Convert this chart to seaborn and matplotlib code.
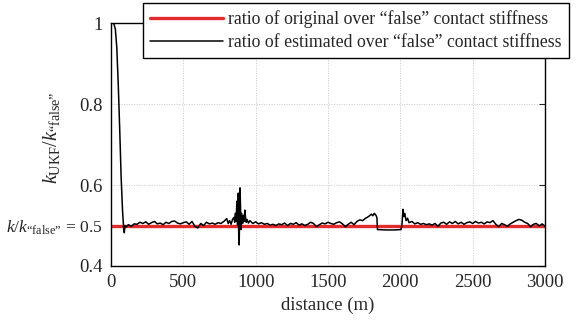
import matplotlib
matplotlib.use("Agg")
import matplotlib.pyplot as plt
import seaborn as sns
import pandas as pd

distance = [0, 10, 20, 30, 40, 50, 60, 70, 80, 88, 92, 96, 100,
            120, 140, 160, 180, 200, 220, 240, 260, 280, 300, 320, 340, 360, 380, 400,
            420, 440, 460, 480, 500, 520, 540, 560, 580, 600, 620, 640, 660, 680, 700,
            720, 740, 760, 780, 800, 810, 820, 830, 840, 850, 855, 860, 865, 870, 875,
            880, 883, 886, 889, 892, 895, 898, 902, 906, 910, 915, 920, 925, 930, 935,
            940, 950, 960, 980, 1000, 1020, 1040, 1060, 1080, 1100, 1120, 1140, 1160,
            1180, 1200, 1220, 1240, 1260, 1280, 1300, 1320, 1340, 1360, 1380, 1400,
            1420, 1440, 1460, 1480, 1500, 1520, 1540, 1560, 1580, 1600, 1620, 1640,
            1660, 1680, 1700, 1720, 1740, 1760, 1780, 1800, 1810, 1820, 1830, 1838,
            1842, 1900, 1960, 2005, 2012, 2018, 2024, 2030, 2040, 2050, 2060, 2080,
            2100, 2120, 2140, 2160, 2180, 2200, 2220, 2240, 2260, 2280, 2300, 2320,
            2340, 2360, 2380, 2400, 2420, 2440, 2460, 2480, 2500, 2520, 2540, 2560,
            2580, 2600, 2620, 2640, 2660, 2680, 2700, 2720, 2740, 2760, 2780, 2800,
            2820, 2840, 2860, 2880, 2900, 2920, 2940, 2960, 2980, 3000]

estimated = [1.0, 1.0, 0.998, 0.985, 0.94, 0.85, 0.74, 0.62, 0.535, 0.49, 0.482, 0.50, 0.495,
             0.502, 0.498, 0.504, 0.503, 0.508, 0.505, 0.509, 0.503, 0.507, 0.510, 0.504, 0.506, 0.502, 0.508, 0.505,
             0.510, 0.511, 0.506, 0.504, 0.507, 0.509, 0.503, 0.510, 0.498, 0.494, 0.505, 0.500, 0.508, 0.504, 0.506,
             0.503, 0.507, 0.505, 0.510, 0.517, 0.505, 0.512, 0.503, 0.515, 0.520, 0.508, 0.530, 0.510, 0.560, 0.500,
             0.580, 0.470, 0.452, 0.520, 0.593, 0.550, 0.490, 0.530, 0.515, 0.505, 0.525, 0.510, 0.538, 0.520, 0.508,
             0.515, 0.506, 0.512, 0.505, 0.509, 0.504, 0.507, 0.503, 0.505, 0.501, 0.503, 0.500, 0.504,
             0.502, 0.506, 0.500, 0.505, 0.503, 0.507, 0.501, 0.504, 0.500, 0.503, 0.508, 0.505,
             0.497, 0.502, 0.506, 0.504, 0.508, 0.505, 0.503, 0.507, 0.509, 0.504, 0.497, 0.503,
             0.508, 0.502, 0.510, 0.514, 0.512, 0.518, 0.522, 0.528, 0.524, 0.530, 0.526, 0.520,
             0.490, 0.489, 0.489, 0.490, 0.505, 0.540, 0.522, 0.530, 0.512, 0.518, 0.507, 0.510,
             0.504, 0.507, 0.503, 0.505, 0.502, 0.504, 0.501, 0.505, 0.498, 0.506, 0.508, 0.503,
             0.509, 0.505, 0.510, 0.504, 0.508, 0.503, 0.507, 0.509, 0.505, 0.510, 0.506, 0.508,
             0.504, 0.509, 0.507, 0.512, 0.503, 0.497, 0.505, 0.502, 0.498, 0.504, 0.508, 0.512,
             0.515, 0.513, 0.508, 0.505, 0.497, 0.503, 0.505, 0.499, 0.504, 0.498]

original_ratio = 0.5
x_ticks = [0, 500, 1000, 1500, 2000, 2500, 3000]
y_ticks = [0.4, 0.5, 0.6, 0.8, 1.0]
y_tick_labels = ["0.4", r"$k/k_{\mathrm{“false”}}$ = 0.5", "0.6", "0.8", "1"]
legend_labels = ["ratio of original over “false” contact stiffness",
                 "ratio of estimated over “false” contact stiffness"]

sns.set_style("white")
plt.rcParams["font.family"] = ["Liberation Serif", "DejaVu Serif"]
plt.rcParams["mathtext.fontset"] = "custom"
plt.rcParams["mathtext.rm"] = "Liberation Serif"
plt.rcParams["mathtext.it"] = "Liberation Serif:italic"

fig = plt.figure(figsize=(5.79, 3.21), dpi=100)
ax = fig.add_axes([111 / 579, 1 - 266 / 321, 434 / 579, 243 / 321])

df = pd.DataFrame({"distance": distance, "ratio": estimated})
ref = pd.DataFrame({"distance": [distance[0], distance[-1]], "ratio": [original_ratio, original_ratio]})

sns.lineplot(data=ref, x="distance", y="ratio", ax=ax, color="#e32b2b", linewidth=2.4,
             label=legend_labels[0], legend=False, zorder=2)
sns.lineplot(data=df, x="distance", y="ratio", ax=ax, color="black", linewidth=1.1,
             estimator=None, sort=False, label=legend_labels[1], legend=False, zorder=3)

ax.set_xlim(0, 3000)
ax.set_ylim(0.4, 1.0)
ax.set_xticks(x_ticks)
ax.set_yticks(y_ticks)
ax.set_yticklabels(y_tick_labels)
ax.tick_params(direction="in", length=4, width=0.8, labelsize=13.5, top=True, right=True, pad=6)
ax.get_yticklabels()[1].set_fontsize(12.6)

for x in x_ticks[1:-1]:
    ax.axvline(x, color="#cccccc", linestyle=(0, (1.5, 1.5)), linewidth=0.6, zorder=0)
for y in [0.6, 0.8]:
    ax.axhline(y, color="#cccccc", linestyle=(0, (1.5, 1.5)), linewidth=0.6, zorder=0)

for s in ax.spines.values():
    s.set_color("black")
    s.set_linewidth(1.0)

ax.set_xlabel("distance (m)", fontsize=13.5, labelpad=4)
ax.set_ylabel(r"$k_{\mathrm{UKF}}/k_{\mathrm{“false”}}$", fontsize=14.5)
ax.yaxis.set_label_coords(-0.113, 0.53)

handles, labels = ax.get_legend_handles_labels()
leg = fig.legend(handles, labels, loc="upper left", bbox_to_anchor=(143 / 579, 1 - 3 / 321),
                 borderaxespad=0, fancybox=False, framealpha=1, edgecolor="black",
                 fontsize=12.8, handlelength=4.1, handletextpad=0.3, borderpad=0.4,
                 labelspacing=0.35)
leg.get_frame().set_linewidth(1.0)

fig.savefig("out.png", dpi=100)
